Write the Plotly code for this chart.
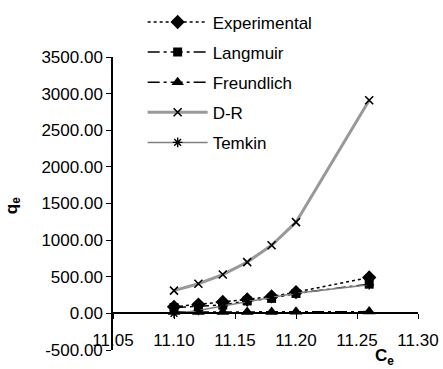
import plotly.graph_objects as go

ce = [11.10, 11.12, 11.14, 11.16, 11.18, 11.20, 11.26]
experimental = [90, 120, 155, 190, 232, 290, 490]
langmuir = [80, 95, 115, 170, 205, 272, 400]
freundlich = [18, 18, 19, 20, 20, 21, 24]
dr = [310, 405, 530, 700, 930, 1245, 2910]
temkin = [0, 40, 100, 160, 215, 275, 390]

y_ticks = [-500, 0, 500, 1000, 1500, 2000, 2500, 3000, 3500]
x_ticks = [11.05, 11.10, 11.15, 11.20, 11.25, 11.30]

FONT = "Liberation Sans, Arial, sans-serif"

fig = go.Figure()
series = [
    ("Experimental", experimental, dict(color="black", width=1.5, dash="dot"),
     dict(symbol="diamond", size=11, color="black")),
    ("Langmuir", langmuir, dict(color="black", width=1.5, dash="12px,4px,3px,4px"),
     dict(symbol="square", size=9, color="black")),
    ("Freundlich", freundlich, dict(color="black", width=1.5, dash="12px,4px,3px,4px"),
     dict(symbol="triangle-up", size=11, color="black")),
    ("D-R", dr, dict(color="#999999", width=3),
     dict(symbol="x-thin", size=8, color="black", line=dict(color="black", width=1.6))),
    ("Temkin", temkin, dict(color="#808080", width=1.5),
     dict(symbol="asterisk", size=8, color="black", line=dict(color="black", width=1.4))),
]
for i, (name, vals, ln, mk) in enumerate(series):
    fig.add_trace(go.Scatter(x=ce, y=vals, name=name, mode="lines+markers",
                             line=ln, marker=mk, legendgroup=f"g{i}"))

fig.update_layout(
    width=443, height=369,
    margin=dict(l=113, r=25, t=57, b=19, autoexpand=False),
    paper_bgcolor="white", plot_bgcolor="white",
    font=dict(family=FONT, size=17, color="black"),
    showlegend=True,
    legend=dict(xref="container", yref="container", x=0.322, y=0.988,
                xanchor="left", yanchor="top", itemwidth=60,
                traceorder="grouped", tracegroupgap=5,
                font=dict(size=17), bgcolor="rgba(0,0,0,0)"),
    xaxis=dict(range=[11.05, 11.30], tickvals=x_ticks, ticktext=[f"{v:.2f}" for v in x_ticks],
               showgrid=False, zeroline=False, showline=True, linecolor="black", linewidth=1.5,
               ticks="outside", ticklen=5, tickcolor="black", anchor="free", position=0.125,
               ticklabelstandoff=6, automargin=False),
    yaxis=dict(range=[-500, 3500], tickvals=y_ticks, ticktext=[f"{v:.2f}" for v in y_ticks],
               showgrid=False, zeroline=False, showline=True, linecolor="black", linewidth=1.5,
               ticks="outside", ticklen=5, tickcolor="black", automargin=False),
    annotations=[
        dict(text="<b>q<sub>e</sub></b>", xref="paper", yref="paper", x=-0.328, y=0.494,
             xanchor="center", yanchor="middle",
             showarrow=False, textangle=-90, font=dict(size=17)),
        dict(text="<b>C<sub>e</sub></b>", xref="paper", yref="paper", x=0.89, y=-0.025,
             xanchor="center", yanchor="middle",
             showarrow=False, font=dict(size=17)),
    ],
)

fig.write_html("out.html")
